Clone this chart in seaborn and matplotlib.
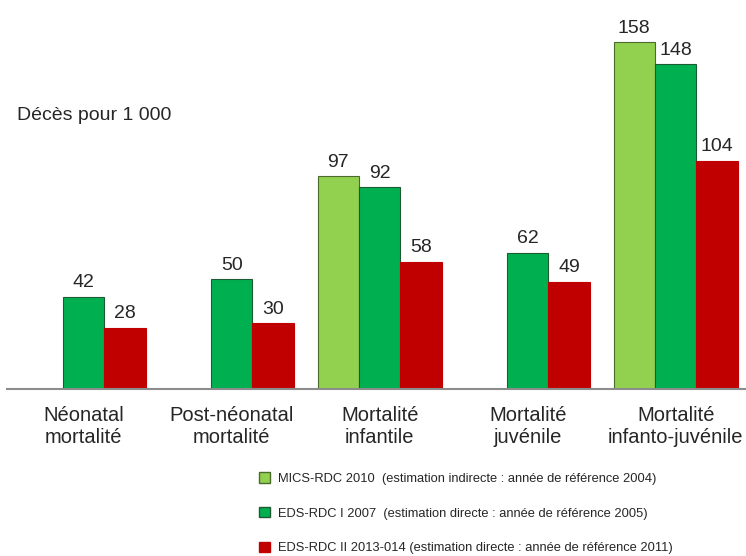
import numpy as np
import pandas as pd
import seaborn as sns
import matplotlib.pyplot as plt
from matplotlib.patches import Patch

categories = ["Néonatal\nmortalité", "Post-néonatal\nmortalité", "Mortalité\ninfantile",
              "Mortalité\njuvénile", "Mortalité\ninfanto-juvénile"]
series = ["MICS-RDC 2010  (estimation indirecte : année de référence 2004)",
          "EDS-RDC I 2007  (estimation directe : année de référence 2005)",
          "EDS-RDC II 2013-014 (estimation directe : année de référence 2011)"]
mics_2010 = [np.nan, np.nan, 97, np.nan, 158]
eds_2007 = [42, 50, 92, 62, 148]
eds_2013 = [28, 30, 58, 49, 104]
colors = ["#92D050", "#00B050", "#C00000"]
edges = ["#4a6b2a", "#1e5a32", "#C00000"]

df = pd.DataFrame({"cat": categories * 3,
                   "serie": [s for s in series for _ in categories],
                   "val": mics_2010 + eds_2007 + eds_2013})

sns.set_style("white")
plt.rcParams['font.family'] = ['Liberation Sans', 'DejaVu Sans']

fig = plt.figure(figsize=(7.46, 5.56), dpi=100)
ax = fig.add_axes([0.009, 0.30, 0.99, 0.632])

sns.barplot(data=df, x="cat", y="val", hue="serie", palette=colors,
            width=0.84, ax=ax, legend=False, saturation=1)

#edges and value labels
for i, cont in enumerate(ax.containers):
    for p in cont:
        p.set_edgecolor(edges[i])
        p.set_linewidth(0.8)
    ax.bar_label(cont, fmt="%d", padding=4, fontsize=14)

ax.set_xlim(-0.52, 4.47)
ax.set_ylim(0, 160)
ax.set_xlabel("")
ax.set_ylabel("")
ax.set_yticks([])
ax.tick_params(axis="x", length=0, pad=12, labelsize=14.5)
for lbl in ax.get_xticklabels():
    lbl.set_linespacing(1.2)
for s in ["top", "right", "left"]:
    ax.spines[s].set_visible(False)
ax.spines["bottom"].set_color("#8c8c8c")
ax.spines["bottom"].set_linewidth(1.5)

fig.text(17 / 746, 1 - 115 / 556, "Décès pour 1 000", fontsize=14, va="center")

#legend
handles = [Patch(facecolor=colors[i], edgecolor=edges[i], label=series[i]) for i in range(3)]
fig.legend(handles=handles, loc="upper left", bbox_to_anchor=(253 / 746, 1 - 466 / 556),
           frameon=False, fontsize=9.3,
           handlelength=0.85, handleheight=0.85,
           handletextpad=0.6, labelspacing=1.7, borderpad=0)

fig.savefig("out.png", dpi=100)
